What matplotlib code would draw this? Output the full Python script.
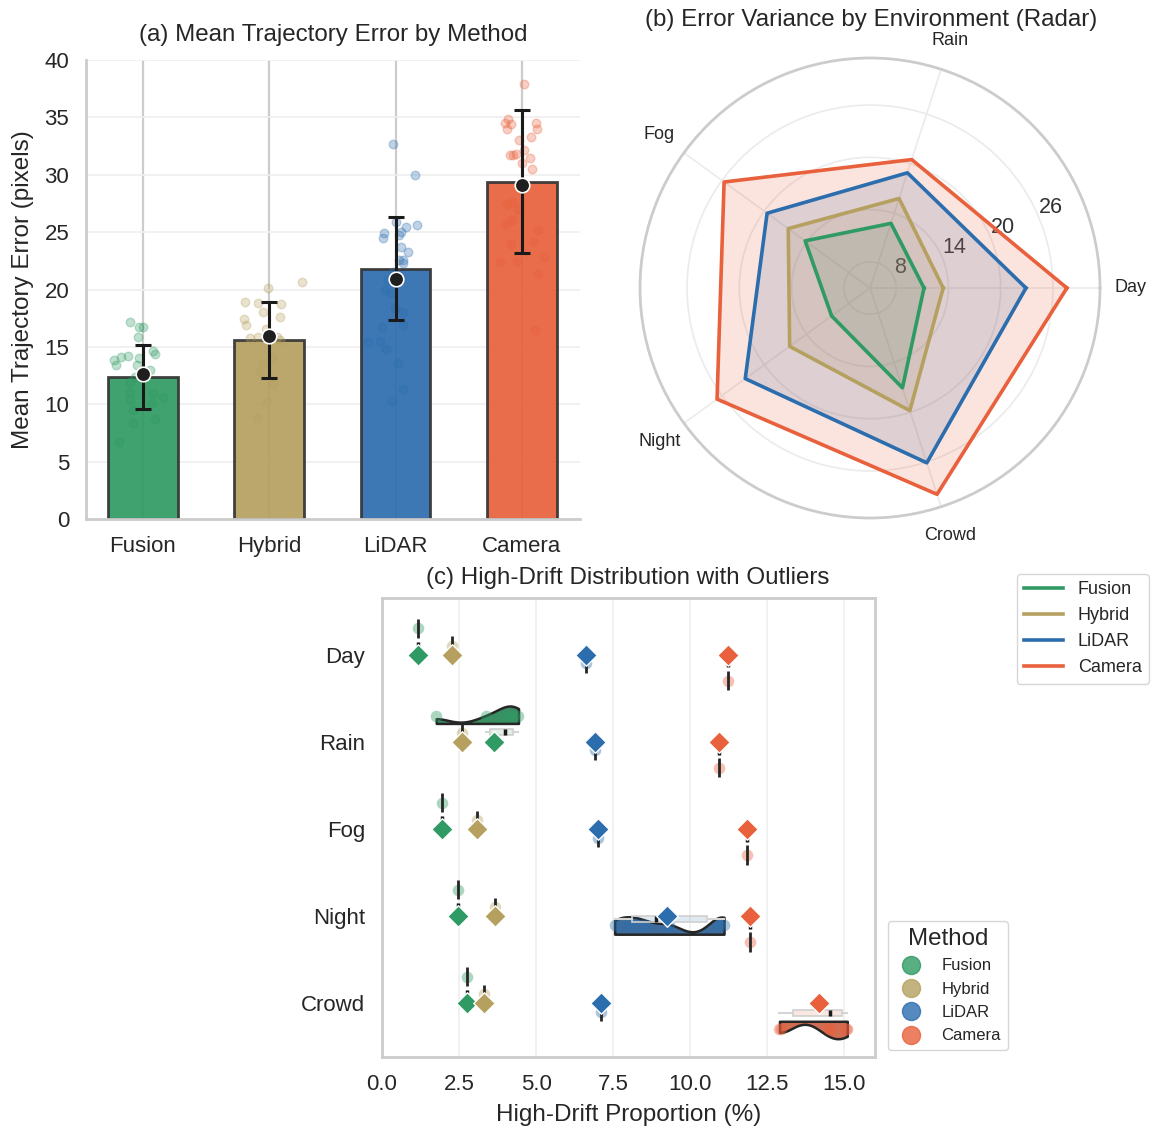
import colorsys

import matplotlib
matplotlib.use("Agg")
import matplotlib.pyplot as plt
import numpy as np
from matplotlib import colors as mcolors
from matplotlib.lines import Line2D

plt.rcParams.update({
    "font.family": ["Liberation Sans", "DejaVu Sans"],
    "text.color": "#262626",
    "axes.labelcolor": "#262626",
    "xtick.color": "#262626",
    "ytick.color": "#262626",
    "xtick.major.size": 0,
    "ytick.major.size": 0,
    "axes.edgecolor": "#cccccc",
    "axes.linewidth": 2.0,
})

METHODS = ["Fusion", "Hybrid", "LiDAR", "Camera"]
COLORS = ["#2f9a63", "#b5a060", "#2c6dae", "#e8603c"]
ENVS = ["Day", "Rain", "Fog", "Night", "Crowd"]

# (a) bar means / std, plus per-run errors (strip points)
bar_mean = [12.4, 15.6, 21.8, 29.4]
bar_sd = [2.8, 3.3, 4.5, 6.2]
runs_fusion = [17.2, 16.76, 16.7, 15.9, 13.86, 13.45, 14.15, 14.2, 14.0, 14.6, 14.4, 13.4,
               12.4, 13.0, 11.97, 11.1, 11.0, 10.66, 10.37, 10.08, 9.5, 8.7, 8.34, 6.74]
runs_hybrid = [20.1, 20.68, 18.94, 18.8, 18.7, 18.07, 17.63, 17.4, 16.9, 16.6, 15.74, 15.9,
               15.9, 15.6, 14.0, 13.57, 12.84, 10.2, 8.77, 11.8]
runs_lidar = [32.65, 29.98, 25.9, 25.48, 25.6, 24.9, 24.46, 25.04, 24.75, 23.67, 23.3, 22.57,
              22.57, 22.28, 21.55, 20.83, 19.96, 19.67, 18.07, 18.36, 16.76, 16.9, 15.4, 15.54,
              14.79, 13.57, 11.3, 10.28]
runs_camera = [37.9, 34.9, 34.5, 34.4, 34.0, 34.5, 34.0, 33.0, 33.3, 32.2, 31.7, 31.7, 31.8,
               31.5, 31.05, 30.5, 27.45, 27.65, 27.0, 25.7, 26.05, 25.2, 24.0, 24.1, 22.4, 22.5,
               22.8, 21.35, 16.5]
# horizontal jitter of the strip points (layout only)
jit_fusion = [-0.10, -0.03, 0.0, -0.04, -0.23, -0.21, -0.17, -0.12, -0.03, 0.08, 0.10, -0.05,
              -0.06, 0.06, -0.10, -0.10, 0.08, 0.16, -0.10, 0.07, -0.08, 0.10, -0.08, -0.19]
jit_hybrid = [-0.01, 0.26, -0.195, -0.085, 0.095, -0.05, 0.087, -0.2, -0.18, -0.024, -0.15,
              -0.085, 0.06, 0.087, 0.02, -0.05, -0.07, -0.02, -0.1, 0.03]
jit_lidar = [-0.02, 0.156, 0.005, 0.08, 0.17, -0.095, -0.1, 0.045, 0.03, 0.045, 0.1, 0.026,
             0.058, 0.063, -0.02, -0.06, -0.08, -0.034, 0.063, -0.008, -0.105, 0.063, -0.22,
             -0.12, -0.074, 0.018, 0.063, -0.026]
jit_camera = [0.018, -0.108, -0.135, -0.09, -0.116, 0.108, 0.116, -0.02, 0.07, 0.016, -0.095,
              -0.07, -0.05, 0.063, 0.003, 0.08, -0.116, -0.07, -0.03, -0.127, -0.08, 0.13,
              -0.087, 0.095, -0.17, -0.037, 0.177, 0.13, 0.1]

# (b) error variance by environment (Day, Rain, Fog, Night, Crowd)
var_fusion = [11.2, 12.8, 14.2, 10.45, 17.05]
var_hybrid = [13.4, 15.8, 16.6, 16.4, 19.8]
var_lidar = [22.9, 18.9, 19.6, 22.7, 26.1]
var_camera = [27.6, 20.5, 25.7, 26.7, 29.9]
radar_ticks = [8, 14, 20, 26]

# (c) high-drift proportion (%) per environment
drift_fusion = [[1.17], [1.76, 3.36, 3.9, 4.11, 4.3, 4.43], [1.96], [2.48], [2.77]]
drift_hybrid = [[2.28], [2.6], [3.07], [3.68], [3.3]]
drift_lidar = [[6.62], [6.9], [7.0], [7.55, 8.0, 8.5, 9.3, 10.95, 11.1], [7.1]]
drift_camera = [[11.22], [10.93], [11.84], [11.93], [12.9, 12.95, 14.5, 14.55, 15.05, 15.1]]

runs = [runs_fusion, runs_hybrid, runs_lidar, runs_camera]
jits = [jit_fusion, jit_hybrid, jit_lidar, jit_camera]
variances = [var_fusion, var_hybrid, var_lidar, var_camera]
drifts = [drift_fusion, drift_hybrid, drift_lidar, drift_camera]

W, H = 1156, 1131
fig = plt.figure(figsize=(W / 100, H / 100), dpi=100)


def box(l, t, r, b):
    return [l / W, 1 - b / H, (r - l) / W, (b - t) / H]


def desat(c, p=0.75):
    h, l, s = colorsys.rgb_to_hls(*mcolors.to_rgb(c))
    return colorsys.hls_to_rgb(h, l, s * p)


# ---------- (a) bars ----------
ax = fig.add_axes(box(86, 60, 580, 519))
x = np.arange(len(METHODS))
ax.set_axisbelow(True)
ax.xaxis.grid(True, color="#cccccc", lw=1.6)
ax.yaxis.grid(True, color="#efefef", lw=1.2)
ax.bar(x, bar_mean, width=0.55, color=COLORS, alpha=0.92, edgecolor="#333333",
       linewidth=2, zorder=2)
ax.errorbar(x, bar_mean, yerr=bar_sd, fmt="none", ecolor="#1a1a1a", elinewidth=2.2,
            capsize=6, capthick=2.2, zorder=4)
for i, (vals, jit) in enumerate(zip(runs, jits)):
    ax.scatter(x[i] + np.array(jit), vals, s=38, color=COLORS[i], alpha=0.3,
               edgecolor=COLORS[i], linewidth=1, zorder=3)
    ax.scatter([x[i]], [np.mean(vals)], s=110, color="#1f1f1f", edgecolor="white",
               linewidth=1.2, zorder=5)
ax.set_xlim(-0.45, 3.46)
ax.set_ylim(0, 40)
ax.set_yticks(range(0, 41, 5))
ax.set_xticks(x)
ax.set_xticklabels(METHODS)
ax.tick_params(labelsize=16, pad=12)
for s in ["top", "right"]:
    ax.spines[s].set_visible(False)
ax.set_ylabel("Mean Trajectory Error (pixels)", fontsize=17.5)
ax.yaxis.set_label_coords(-0.105, 0.5)
fig.text(333 / W, 1 - 35 / H, "(a) Mean Trajectory Error by Method", fontsize=17.4,
         ha="center", va="center")

# ---------- (b) radar ----------
axr = fig.add_axes(box(640, 58, 1100, 518), projection="polar")
axr.set_axisbelow(True)
ang = np.linspace(0, 2 * np.pi, len(ENVS), endpoint=False)
ang_c = np.concatenate([ang, ang[:1]])
for i, vals in enumerate(variances):
    v = np.concatenate([vals, vals[:1]])
    axr.fill(ang_c, v, color=COLORS[i], alpha=0.17, lw=0)
for i, vals in enumerate(variances):
    v = np.concatenate([vals, vals[:1]])
    axr.plot(ang_c, v, color=COLORS[i], lw=2.6, label=METHODS[i])
axr.set_ylim(5.0, 31.4)
axr.set_yticks(radar_ticks)
axr.set_yticklabels([str(t) for t in radar_ticks], fontsize=15.5, color="#333333")
axr.set_thetagrids(np.degrees(ang), ENVS, fontsize=13)
axr.tick_params(axis="x", pad=15)
axr.grid(color="#ebebeb", lw=1.2)
axr.spines["polar"].set_color("#cccccc")
axr.spines["polar"].set_linewidth(2)
fig.text(871 / W, 1 - 20 / H, "(b) Error Variance by Environment (Radar)", fontsize=17.4,
         ha="center", va="center")
fig.legend(*axr.get_legend_handles_labels(), loc="upper right",
           bbox_to_anchor=(1149 / W, 1 - 574 / H), borderaxespad=0, fontsize=13,
           handlelength=2.2, frameon=True, edgecolor="#cccccc", fancybox=True)

# ---------- (c) raincloud ----------
axc = fig.add_axes(box(382, 598, 875, 1057))
axc.set_axisbelow(True)
axc.xaxis.grid(True, color="#efefef", lw=1.2)
hue_off = [-0.3, -0.1, 0.1, 0.3]
box_off = [-0.1125, -0.0375, 0.0375, 0.1125]
# where each spread-out cloud sits (offset from the row, and which way it opens)
cloud_pos = {(1, 0): (-0.21, -1), (3, 2): (0.21, -1), (4, 3): (0.21, 1)}
for m, per_env in enumerate(drifts):
    col = COLORS[m]
    for e, vals in enumerate(per_env):
        vals = np.asarray(vals, float)
        y_h = e + hue_off[m]
        if np.ptp(vals) == 0:
            axc.plot([vals[0], vals[0]], [y_h - 0.11, y_h + 0.11], color="#262626", lw=2,
                     zorder=4, solid_capstyle="butt")
        else:
            base, sign = cloud_pos[(e, m)]
            grid = np.linspace(vals.min(), vals.max(), 200)
            dens = np.exp(-0.5 * ((grid[None, :] - vals[:, None]) / 0.4) ** 2).sum(0)
            dens = dens / dens.max() * 0.2
            axc.fill_between(grid, e + base, e + base + sign * dens, facecolor=desat(col),
                             edgecolor="#262626", linewidth=1.8, zorder=2)
        axc.scatter(vals, np.full(len(vals), y_h), s=70, color=col, alpha=0.4, lw=0,
                    zorder=3)
        bp = axc.boxplot(vals, positions=[e + box_off[m]], vert=False, widths=0.07,
                         showfliers=False, patch_artist=True, manage_ticks=False,
                         boxprops=dict(facecolor=mcolors.to_rgba(col, 0.15),
                                       edgecolor="#cfcfcf", lw=1.2),
                         whiskerprops=dict(color="#d5d5d5", lw=1.5),
                         capprops=dict(color="#d5d5d5", lw=0),
                         medianprops=dict(color="#1a1a1a", lw=2.5, solid_capstyle="butt"))
        for k in bp:
            for art in bp[k]:
                art.set_zorder(4)
        axc.scatter([vals.mean()], [e], marker="D", s=120, color=col, edgecolor="white",
                    linewidth=1, zorder=5)
axc.set_xlim(0, 16)
axc.set_ylim(4.62, -0.65)
axc.set_xticks(np.arange(0, 15.1, 2.5))
axc.set_xticklabels([f"{t:.1f}" for t in np.arange(0, 15.1, 2.5)])
axc.set_yticks(range(len(ENVS)))
axc.set_yticklabels(ENVS)
axc.tick_params(labelsize=16, pad=12)
axc.set_xlabel("High-Drift Proportion (%)", fontsize=17.5)
axc.xaxis.set_label_coords(0.5, -0.102)
fig.text(628 / W, 1 - 578 / H, "(c) High-Drift Distribution with Outliers", fontsize=17.4,
         ha="center", va="center")
handles = [Line2D([], [], marker="o", ls="", markersize=13, markerfacecolor=c,
                  markeredgecolor=c, alpha=0.8) for c in COLORS]
fig.legend(handles, METHODS, title="Method", loc="lower left",
           bbox_to_anchor=(888 / W, 1 - 1050 / H), borderaxespad=0, fontsize=12,
           title_fontsize=17.4, frameon=True, edgecolor="#cccccc", handletextpad=0.8)

fig.savefig("out.png", dpi=100)
